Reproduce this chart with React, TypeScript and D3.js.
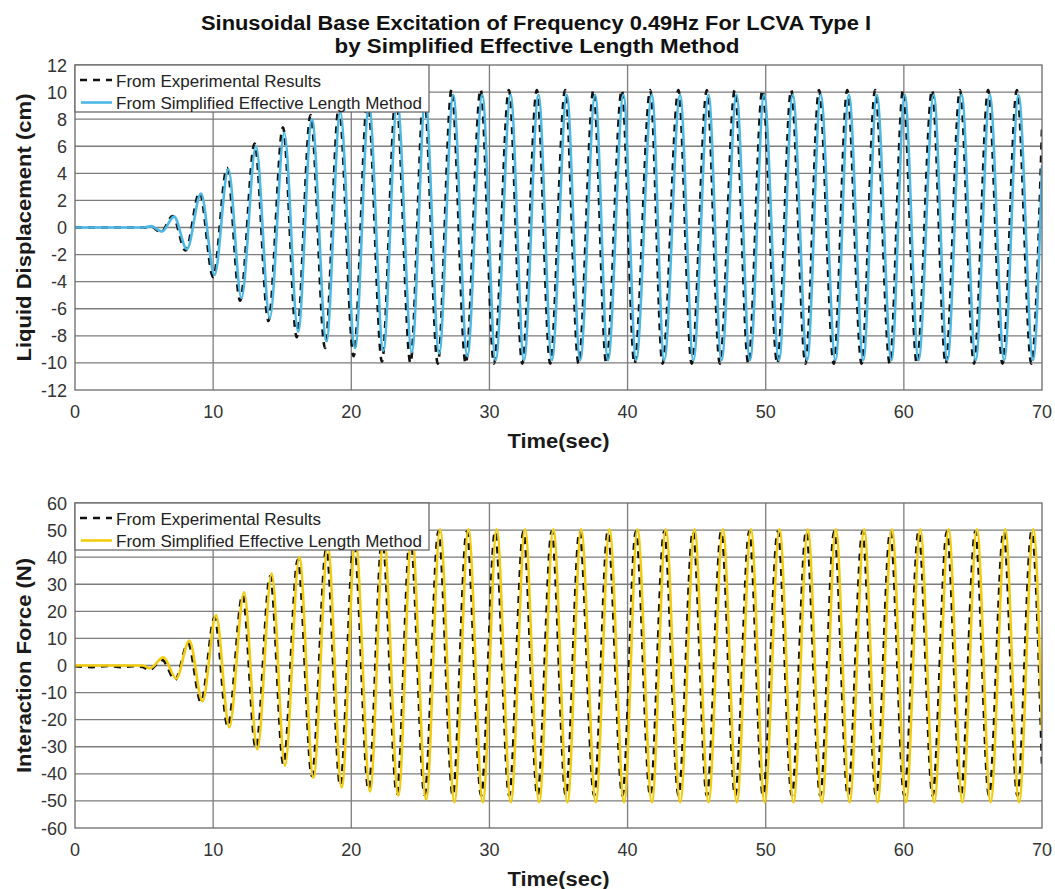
import React from 'react';
import * as d3 from 'd3';

type Pt = [number, number];

// Axis ticks
const timeTicks = [0, 10, 20, 30, 40, 50, 60, 70];
const displacementTicks = [-12, -10, -8, -6, -4, -2, 0, 2, 4, 6, 8, 10, 12];
const forceTicks = [-60, -50, -40, -30, -20, -10, 0, 10, 20, 30, 40, 50, 60];

const titleLines = [
  'Sinusoidal Base Excitation of Frequency 0.49Hz For LCVA Type I',
  'by Simplified Effective Length Method',
];
const legendLabels = ['From Experimental Results', 'From Simplified Effective Length Method'];

// Liquid displacement (cm): turning points of each record, [time s, value]
const displacementExperimental: Pt[] = [
  [0, 0], [5.0, 0], [5.45, 0.1], [6.22, -0.35], [7.07, 0.85], [8.0, -1.7], [9.02, 2.6], [10.0, -3.65],
  [11.0, 4.4], [11.95, -5.4], [13.0, 6.2], [14.0, -6.9], [15.05, 7.4], [16.05, -8.1], [17.05, 8.3],
  [18.1, -8.9], [19.1, 8.9], [20.17, -9.5], [21.18, 9.5], [22.22, -9.9], [23.23, 9.8], [24.28, -10.0],
  [25.26, 10.0], [26.26, -10.05], [27.26, 10.2], [28.28, -10.05], [29.36, 10.2], [30.33, -10.05],
  [31.41, 10.15], [32.38, -10.05], [33.43, 10.15], [34.4, -10.05], [35.48, 10.15], [36.45, -10.05],
  [37.53, 10.15], [38.46, -10.05], [39.58, 10.15], [40.5, -10.05], [41.64, 10.15], [42.53, -10.05],
  [43.68, 10.15], [44.64, -10.05], [45.74, 10.15], [46.68, -10.05], [47.76, 10.15], [48.74, -10.05],
  [49.76, 10.15], [50.84, -10.05], [51.84, 10.15], [52.88, -10.05], [53.86, 10.15], [54.93, -10.05],
  [55.9, 10.15], [56.94, -10.05], [57.92, 10.15], [58.98, -10.05], [59.94, 10.15], [60.94, -10.05],
  [62.04, 10.15], [63.03, -10.05], [64.06, 10.15], [65.08, -10.05], [66.1, 10.15], [67.14, -10.05],
  [68.18, 10.15], [69.23, -10.05], [70, 7.4],
];

const displacementSimplified: Pt[] = [
  [0, 0], [5.0, 0], [5.5, 0.1], [6.3, -0.3], [7.17, 0.8], [8.1, -1.6], [9.12, 2.5], [10.1, -3.5],
  [11.1, 4.3], [12.05, -5.2], [13.1, 6.0], [14.1, -6.7], [15.15, 7.0], [16.15, -7.7], [17.15, 8.0],
  [18.2, -8.4], [19.2, 8.5], [20.27, -8.9], [21.28, 9.0], [22.32, -9.1], [23.33, 9.3], [24.38, -9.2],
  [25.36, 9.5], [26.36, -9.3], [27.38, 9.8], [28.4, -9.5], [29.48, 9.8], [30.45, -9.8],
  [31.53, 9.8], [32.5, -9.8], [33.55, 9.8], [34.52, -9.8], [35.6, 9.8], [36.57, -9.8],
  [37.65, 9.8], [38.58, -9.8], [39.7, 9.8], [40.62, -9.8], [41.76, 9.8], [42.65, -9.8],
  [43.8, 9.8], [44.76, -9.8], [45.86, 9.8], [46.8, -9.8], [47.88, 9.8], [48.86, -9.8],
  [49.88, 9.8], [50.96, -9.8], [51.96, 9.8], [53.0, -9.8], [53.98, 9.8], [55.05, -9.8],
  [56.02, 9.8], [57.06, -9.8], [58.04, 9.8], [59.1, -9.8], [60.06, 9.8], [61.06, -9.8],
  [62.16, 9.8], [63.15, -9.8], [64.18, 9.8], [65.2, -9.8], [66.22, 9.8], [67.26, -9.8],
  [68.3, 9.8], [69.35, -9.8], [70, 4.6],
];

// Interaction force (N): turning points of each record, [time s, value]
const forceExperimental: Pt[] = [
  [0, -0.3], [1.2, -0.6], [2.4, -0.2], [3.3, -0.6], [4.2, -0.3], [4.9, -0.5], [5.35, -1.8], [6.32, 2.0],
  [7.25, -5.3], [8.18, 8.2], [9.12, -13.5], [10.1, 17.6], [11.06, -22.5], [12.13, 26.0], [13.09, -30.5],
  [14.13, 33.0], [15.09, -36.5], [16.13, 39.0], [17.15, -40.8], [18.19, 43.0], [19.2, -44.3],
  [20.19, 45.8], [21.25, -45.8], [22.24, 47.3], [23.3, -47.2], [24.27, 48.3], [25.31, -47.8],
  [26.31, 49.5], [27.35, -48.0], [28.36, 49.5], [29.4, -48.0], [30.41, 49.5], [31.43, -48.0],
  [32.46, 49.5], [33.48, -48.0], [34.51, 49.5], [35.53, -48.0], [36.52, 49.5], [37.58, -48.0],
  [38.57, 49.5], [39.63, -48.0], [40.6, 49.5], [41.64, -48.0], [42.65, 49.5], [43.69, -48.0],
  [44.73, 49.5], [45.74, -48.0], [46.78, 49.5], [47.79, -48.0], [48.81, 49.5], [49.8, -48.0],
  [50.88, 49.5], [51.89, -48.0], [52.93, 49.5], [53.95, -48.0], [54.96, 49.5], [55.95, -48.0],
  [57.01, 49.5], [57.98, -48.0], [59.02, 49.5], [60.03, -48.0], [61.07, 49.5], [62.08, -48.0],
  [63.12, 49.5], [64.12, -48.0], [65.17, 49.5], [66.16, -48.0], [67.22, 49.5], [68.22, -48.0],
  [69.25, 49.5], [70, -37.4],
];

const forceSimplified: Pt[] = [
  [0, 0], [4.9, 0], [5.43, -1.0], [6.4, 3.0], [7.33, -4.8], [8.28, 9.2], [9.23, -13.2], [10.21, 18.6],
  [11.17, -22.8], [12.24, 27.0], [13.2, -31.0], [14.24, 34.0], [15.2, -37.0], [16.24, 40.0],
  [17.26, -41.5], [18.3, 44.0], [19.31, -45.0], [20.3, 46.5], [21.36, -46.5], [22.35, 48.0],
  [23.41, -48.0], [24.38, 49.0], [25.42, -49.5], [26.43, 50.3], [27.47, -50.5], [28.48, 50.3],
  [29.52, -50.5], [30.53, 50.3], [31.55, -50.5], [32.58, 50.3], [33.6, -50.5], [34.63, 50.3],
  [35.65, -50.5], [36.64, 50.3], [37.7, -50.5], [38.69, 50.3], [39.75, -50.5], [40.72, 50.3],
  [41.76, -50.5], [42.77, 50.3], [43.81, -50.5], [44.85, 50.3], [45.86, -50.5], [46.9, 50.3],
  [47.91, -50.5], [48.93, 50.3], [49.92, -50.5], [51.0, 50.3], [52.01, -50.5], [53.05, 50.3],
  [54.07, -50.5], [55.08, 50.3], [56.07, -50.5], [57.13, 50.3], [58.1, -50.5], [59.14, 50.3],
  [60.15, -50.5], [61.19, 50.3], [62.2, -50.5], [63.24, 50.3], [64.24, -50.5], [65.29, 50.3],
  [66.28, -50.5], [67.34, 50.3], [68.34, -50.5], [69.37, 50.3], [70, -23.8],
];

const WIDTH = 1055;
const HEIGHT = 889;
const PLOT_LEFT = 75;
const PLOT_RIGHT = 1042;
const FONT = "'Liberation Sans', Arial, Helvetica, sans-serif";
const GRID = '#7d7d7d';
const DASH = '7,6';

type PanelProps = {
  id: string;
  top: number;
  bottom: number;
  ticks: number[];
  yLabel: string;
  yLabelLength: number;
  experimental: Pt[];
  simplified: Pt[];
  color: string;
};

function Panel({ id, top, bottom, ticks, yLabel, yLabelLength, experimental, simplified, color }: PanelProps) {
  const x = d3.scaleLinear().domain([0, 70]).range([PLOT_LEFT, PLOT_RIGHT]);
  const y = d3.scaleLinear().domain([ticks[0], ticks[ticks.length - 1]]).range([bottom, top]);
  const line = d3
    .line<Pt>()
    .x((d) => x(d[0]))
    .y((d) => y(d[1]))
    .curve(d3.curveMonotoneX);
  const midY = (top + bottom) / 2;
  const midX = (PLOT_LEFT + PLOT_RIGHT) / 2;
  const legendW = 354;
  const legendH = 47;

  return (
    <g>
      <defs>
        <clipPath id={`clip-${id}`}>
          <rect x={PLOT_LEFT} y={top} width={PLOT_RIGHT - PLOT_LEFT} height={bottom - top} />
        </clipPath>
      </defs>
      <rect x={PLOT_LEFT} y={top} width={PLOT_RIGHT - PLOT_LEFT} height={bottom - top} fill="#fff" />
      {/* grid */}
      {timeTicks.slice(1, -1).map((t) => (
        <line key={`gx${t}`} x1={x(t)} x2={x(t)} y1={top} y2={bottom} stroke={GRID} strokeWidth={1.3} />
      ))}
      {ticks.slice(1, -1).map((v) => (
        <line key={`gy${v}`} x1={PLOT_LEFT} x2={PLOT_RIGHT} y1={y(v)} y2={y(v)} stroke={GRID} strokeWidth={1.3} />
      ))}
      {/* series: experimental underneath, simplified on top */}
      <g clipPath={`url(#clip-${id})`}>
        <path
          d={line(experimental) ?? ''}
          fill="none"
          stroke="#111"
          strokeWidth={2.6}
          strokeDasharray={DASH}
        />
        <path d={line(simplified) ?? ''} fill="none" stroke={color} strokeWidth={2.6} strokeLinejoin="round" />
      </g>
      {/* frame */}
      <rect
        x={PLOT_LEFT}
        y={top}
        width={PLOT_RIGHT - PLOT_LEFT}
        height={bottom - top}
        fill="none"
        stroke="#6a6a6a"
        strokeWidth={1.3}
      />
      {/* tick labels */}
      {ticks.map((v) => (
        <text key={`ty${v}`} x={PLOT_LEFT - 8} y={y(v) + 6.5} textAnchor="end" fontSize={18} fill="#333" fontFamily={FONT}>
          {v}
        </text>
      ))}
      {timeTicks.map((t) => (
        <text key={`tx${t}`} x={x(t)} y={bottom + 28} textAnchor="middle" fontSize={18} fill="#333" fontFamily={FONT}>
          {t}
        </text>
      ))}
      {/* axis labels */}
      <text
        x={midX}
        y={bottom + 58}
        textAnchor="middle"
        fontSize={20}
        fontWeight="bold"
        fill="#1a1a1a"
        fontFamily={FONT}
        textLength={102}
        lengthAdjust="spacingAndGlyphs"
      >
        Time(sec)
      </text>
      <text
        transform={`translate(31,${midY}) rotate(-90)`}
        textAnchor="middle"
        fontSize={20}
        fontWeight="bold"
        fill="#1a1a1a"
        fontFamily={FONT}
        textLength={yLabelLength}
        lengthAdjust="spacingAndGlyphs"
      >
        {yLabel}
      </text>
      {/* legend */}
      <rect x={PLOT_LEFT} y={top} width={legendW} height={legendH} fill="#fff" stroke="#6a6a6a" strokeWidth={1.3} />
      <line x1={80} x2={112} y1={top + 15} y2={top + 15} stroke="#111" strokeWidth={2.6} strokeDasharray={DASH} />
      <line x1={81} x2={112} y1={top + 37.5} y2={top + 37.5} stroke={color} strokeWidth={2.6} />
      <text x={116} y={top + 21.5} fontSize={17} fill="#222" fontFamily={FONT}>
        {legendLabels[0]}
      </text>
      <text x={116} y={top + 44} fontSize={17} fill="#222" fontFamily={FONT}>
        {legendLabels[1]}
      </text>
    </g>
  );
}

export default function App() {
  return (
    <div style={{ position: 'absolute', left: 0, top: 0 }}>
      <svg width={WIDTH} height={HEIGHT} viewBox={`0 0 ${WIDTH} ${HEIGHT}`} style={{ display: 'block', background: '#fff' }}>
        <text
          x={536}
          y={30}
          textAnchor="middle"
          fontSize={20}
          fontWeight="bold"
          fill="#111"
          fontFamily={FONT}
          textLength={670}
          lengthAdjust="spacingAndGlyphs"
        >
          {titleLines[0]}
        </text>
        <text
          x={537}
          y={53}
          textAnchor="middle"
          fontSize={20}
          fontWeight="bold"
          fill="#111"
          fontFamily={FONT}
          textLength={405}
          lengthAdjust="spacingAndGlyphs"
        >
          {titleLines[1]}
        </text>
        <Panel
          id="disp"
          top={65}
          bottom={390}
          ticks={displacementTicks}
          yLabel="Liquid Displacement (cm)"
          yLabelLength={268}
          experimental={displacementExperimental}
          simplified={displacementSimplified}
          color="#4cb8e6"
        />
        <Panel
          id="force"
          top={503}
          bottom={828}
          ticks={forceTicks}
          yLabel="Interaction Force (N)"
          yLabelLength={215}
          experimental={forceExperimental}
          simplified={forceSimplified}
          color="#f2cc0c"
        />
      </svg>
    </div>
  );
}
